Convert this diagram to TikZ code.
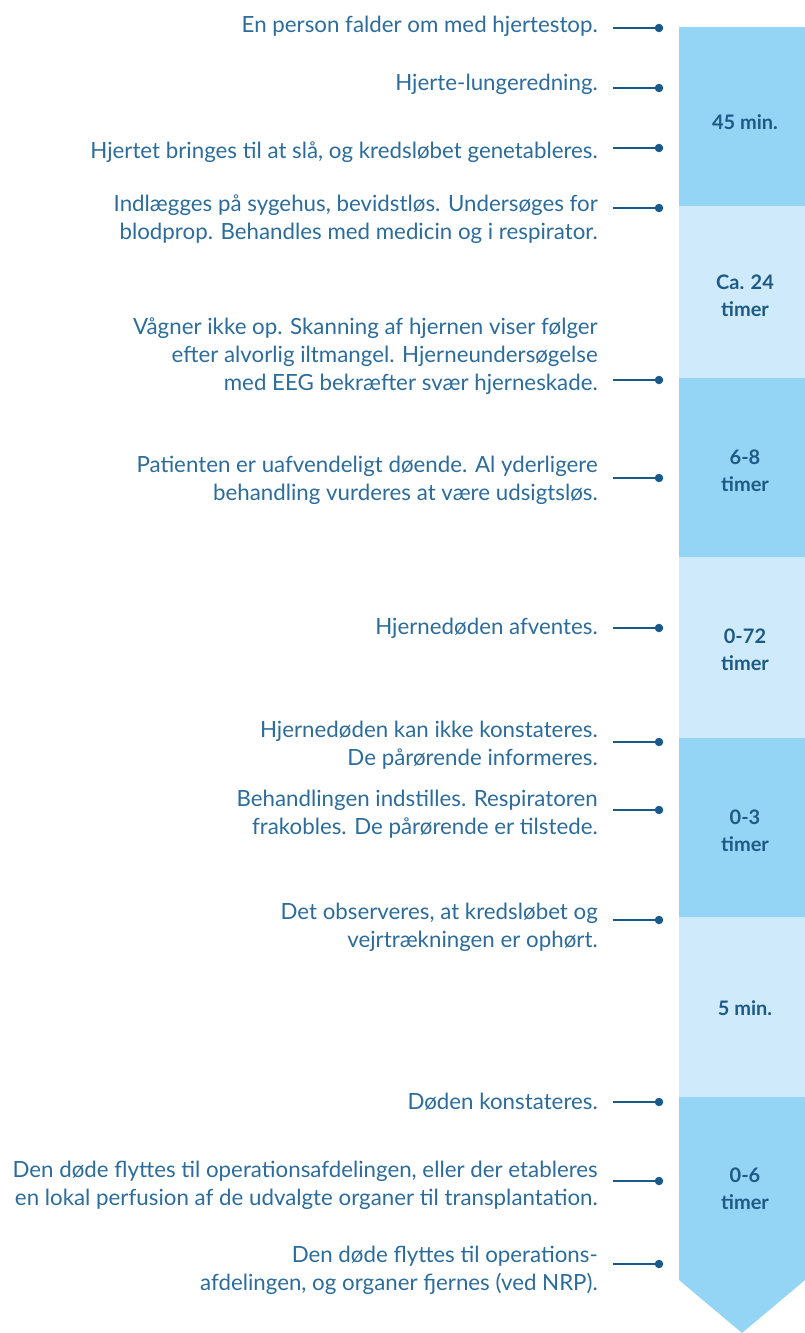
\documentclass[tikz,border=0pt]{standalone}
\usepackage{fontspec}
\setmainfont{Lato}
\definecolor{bardark}{HTML}{94D5F5}
\definecolor{barlight}{HTML}{CFEBFB}
\definecolor{textblue}{HTML}{2B6C9C}
\definecolor{linkblue}{HTML}{1A5A8A}
\definecolor{labelblue}{HTML}{1D5A85}
\begin{document}
\begin{tikzpicture}[x=1pt,y=-1pt,
  step text/.style={anchor=east,align=right,text=textblue,font=\fontsize{22.3}{28}\selectfont,inner sep=0pt},
  time label/.style={align=center,text=labelblue,font=\fontsize{20}{27}\selectfont\bfseries,inner sep=0pt},
  dot/.style={circle,fill=linkblue,minimum size=8.5pt,inner sep=0pt},
  link/.style={draw=linkblue,line width=2.3pt}]
\useasboundingbox (0,0) rectangle (805,1333);
% bar segments
\fill[bardark] (679,27) rectangle (805,206);
\fill[barlight] (679,206) rectangle (805,378);
\fill[bardark] (679,378) rectangle (805,557);
\fill[barlight] (679,557) rectangle (805,738);
\fill[bardark] (679,738) rectangle (805,917);
\fill[barlight] (679,917) rectangle (805,1097);
\fill[bardark] (679,1097) -- (805,1097) -- (805,1280) -- (742,1333) -- (679,1280) -- cycle;
\begin{scope}[every node/.style={time label}]
\node (t1) at (745,122) {45 min.};
\node (t2) at (745,296) {Ca. 24\\timer};
\node (t3) at (745,471) {6-8\\timer};
\node (t4) at (745,650) {0-72\\timer};
\node (t5) at (745,831) {0-3\\timer};
\node (t6) at (745,1008) {5 min.};
\node (t7) at (745,1189) {0-6\\timer};
\end{scope}
\begin{scope}[every node/.style={step text}]
\node (s1) at (598,26) {En person falder om med hjertestop.};%1
\node (s2) at (598,84) {Hjerte-lungeredning.};%2
\node (s3) at (598,152) {Hjertet bringes til at slå, og kredsløbet genetableres.};%3
\node (s4) at (598,219) {Indlægges på sygehus, bevidstløs. Undersøges for\\blodprop. Behandles med medicin og i respirator.};%4
\node (s5) at (598,356) {Vågner ikke op. Skanning af hjernen viser følger\\efter alvorlig iltmangel. Hjerneundersøgelse\\med EEG bekræfter svær hjerneskade.};%5
\node (s6) at (598,480) {Patienten er uafvendeligt døende. Al yderligere\\behandling vurderes at være udsigtsløs.};%6
\node (s7) at (598,628) {Hjernedøden afventes.};%7
\node (s8) at (598,745) {Hjernedøden kan ikke konstateres.\\De pårørende informeres.};%8
\node (s9) at (598,814) {Behandlingen indstilles. Respiratoren\\frakobles. De pårørende er tilstede.};%9
\node (s10) at (598,927) {Det observeres, at kredsløbet og\\vejrtrækningen er ophørt.};%10
\node (s11) at (598,1102) {Døden konstateres.};%11
\node (s12) at (598,1185) {Den døde flyttes til operationsafdelingen, eller der etableres\\en lokal perfusion af de udvalgte organer til transplantation.};%12
\node (s13) at (598,1270) {Den døde flyttes til operations-\\afdelingen, og organer fjernes (ved NRP).};%13
\end{scope}
% connectors
\foreach \i/\y in {1/28,2/88,3/148,4/208,5/380,6/478,7/628,8/742,9/810,10/920,11/1102,12/1181,13/1264}{
  \coordinate (a\i) at (613,\y);
  \node[dot] (d\i) at (659,\y) {};
  \draw[link] (a\i) -- (d\i.center);
}
\end{tikzpicture}
\end{document}
